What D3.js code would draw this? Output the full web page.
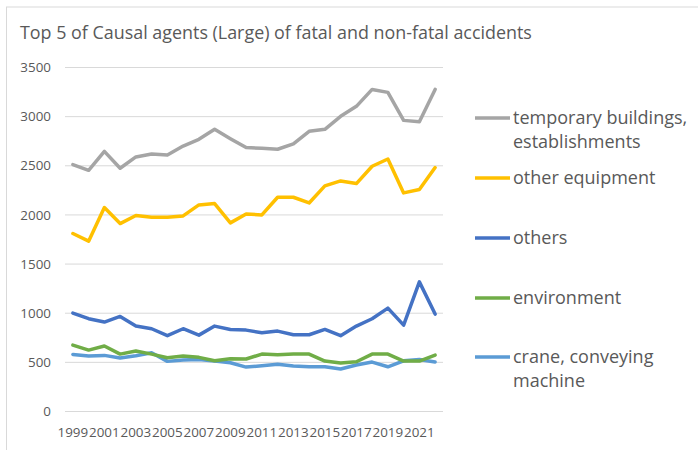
<!DOCTYPE html>
<html>
<head>
<meta charset="utf-8">
<script src="https://cdn.jsdelivr.net/npm/d3@7"></script>
<style>
  body { margin: 0; background: #fff; }
  text { font-family: "Open Sans", "Noto Sans", sans-serif; fill: #595959; }
</style>
</head>
<body>
<div id="chart"></div>
<script>
(function () {

  const years = d3.range(1999, 2023)
  const yTicks = [0, 500, 1000, 1500, 2000, 2500, 3000, 3500]

  const seriesNames = ["temporary buildings, establishments", "other equipment", "others", "environment", "crane, conveying machine"]
  const legendLines = [["temporary buildings,", "establishments"], ["other equipment"], ["others"], ["environment"], ["crane, conveying", "machine"]]
  const colors = ["#a5a5a5", "#ffc000", "#4472c4", "#70ad47", "#5b9bd5"]

  const temporaryBuildings = [2512, 2454, 2647, 2475, 2590, 2620, 2610, 2701, 2769, 2871, 2776, 2685, 2678, 2668, 2722, 2851, 2871, 3003, 3105, 3277, 3247, 2962, 2949, 3277]
  const otherEquipment = [1811, 1733, 2075, 1912, 1994, 1977, 1977, 1990, 2102, 2116, 1919, 2010, 2000, 2180, 2180, 2122, 2295, 2346, 2319, 2495, 2569, 2224, 2258, 2482]
  const others = [1001, 944, 910, 967, 869, 842, 771, 842, 777, 869, 835, 828, 801, 818, 781, 781, 835, 771, 869, 944, 1052, 879, 1319, 991]
  const environment = [676, 625, 666, 584, 615, 584, 547, 564, 551, 516, 537, 534, 584, 577, 584, 584, 513, 493, 506, 584, 584, 513, 513, 574]
  const crane = [581, 564, 571, 544, 567, 598, 510, 523, 530, 513, 496, 452, 466, 480, 462, 455, 455, 432, 473, 503, 455, 516, 530, 503]

  const allSeries = [temporaryBuildings, otherEquipment, others, environment, crane]

  const svg = d3.select("#chart").append("svg")
      .attr("width", 698)
      .attr("height", 450)

  // outer chart frame
  svg.append("rect")
    .attr("x", 6.5).attr("y", 7)
    .attr("width", 720).attr("height", 460)
    .attr("fill", "none")
    .attr("stroke", "#d9d9d9")

  svg.append("text")
    .attr("x", 20)
    .attr("y", 38.5)
    .style("font-size", "17.9px")
    .text("Top 5 of Causal agents (Large) of fatal and non-fatal accidents")

  const xPositionScale = d3.scaleBand()
    .domain(years)
    .range([65, 443])

  const yPositionScale = d3.scaleLinear()
    .domain([0, 3500])
    .range([411.5, 67.5])

  // gridlines
  svg.selectAll(".grid")
    .data(yTicks)
    .join("line")
    .attr("class", "grid")
    .attr("x1", 65).attr("x2", 443)
    .attr("y1", d => yPositionScale(d)).attr("y2", d => yPositionScale(d))
    .attr("stroke", "#d9d9d9")
    .attr("stroke-width", 1)

  svg.selectAll(".ylab")
    .data(yTicks)
    .join("text")
    .attr("class", "ylab")
    .attr("x", 51)
    .attr("y", d => yPositionScale(d))
    .attr("dy", "0.35em")
    .attr("text-anchor", "end")
    .style("font-size", "13.4px")
    .text(d => d)

  // every other year gets a label
  svg.selectAll(".xlab")
    .data(years.filter((d, i) => i % 2 === 0))
    .join("text")
    .attr("class", "xlab")
    .attr("x", d => xPositionScale(d) + xPositionScale.bandwidth() / 2)
    .attr("y", 437)
    .attr("text-anchor", "middle")
    .style("font-size", "13.4px")
    .text(d => d)

  const line = d3.line()
    .x((d, i) => xPositionScale(years[i]) + xPositionScale.bandwidth() / 2)
    .y(d => yPositionScale(d))

  // draw bottom series first so gray/yellow sit on top like the original
  svg.selectAll(".series")
    .data(allSeries.map((values, i) => ({ values, color: colors[i], name: seriesNames[i] })).reverse())
    .join("path")
    .attr("class", "series")
    .attr("d", d => line(d.values))
    .attr("fill", "none")
    .attr("stroke", d => d.color)
    .attr("stroke-width", 3.5)
    .attr("stroke-linejoin", "round")
    .attr("stroke-linecap", "round")

  // legend
  const legendY = [118, 178, 238, 298, 357]
  const legend = svg.selectAll(".legend")
    .data(legendLines)
    .join("g")
    .attr("class", "legend")
    .attr("transform", (d, i) => "translate(475," + legendY[i] + ")")

  legend.append("line")
    .attr("x1", 0).attr("x2", 35)
    .attr("stroke", (d, i) => colors[i])
    .attr("stroke-width", 3.5)

  legend.selectAll("text")
    .data(d => d)
    .join("text")
    .attr("x", 38)
    .attr("y", (d, j) => j * 24)
    .attr("dy", "0.35em")
    .style("font-size", "18px")
    .text(d => d)

})();
</script>
</body>
</html>
